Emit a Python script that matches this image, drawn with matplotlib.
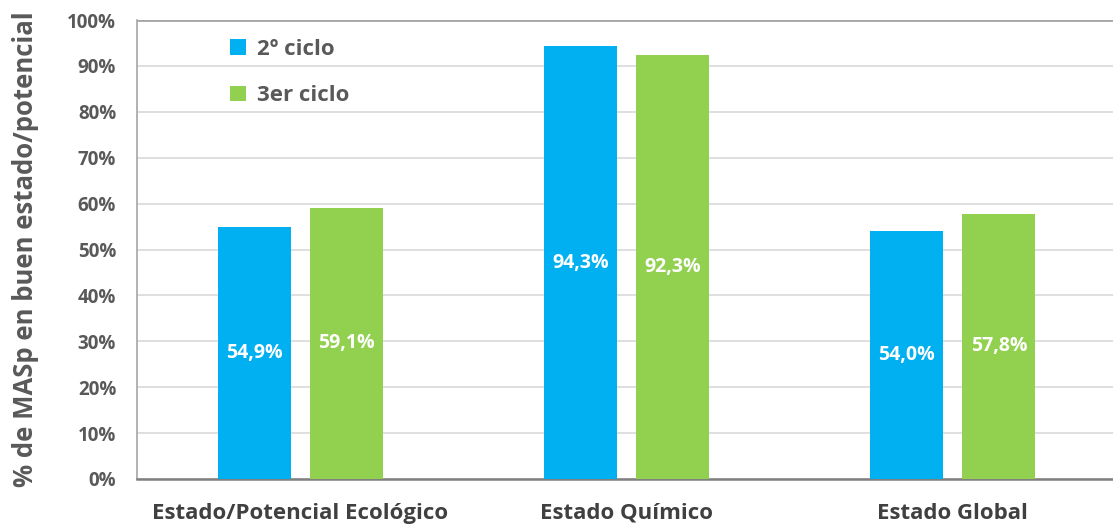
import matplotlib
matplotlib.use("Agg")
import matplotlib.pyplot as plt
import numpy as np

categories = ["Estado/Potencial Ecológico", "Estado Químico", "Estado Global"]
series_names = ["2º ciclo", "3er ciclo"]
ciclo2 = [54.9, 94.3, 54.0]
ciclo3 = [59.1, 92.3, 57.8]
yticks = [0, 10, 20, 30, 40, 50, 60, 70, 80, 90, 100]

plt.rcParams['font.family'] = ['Open Sans', 'DejaVu Sans']

fig = plt.figure(figsize=(11.13, 5.30), dpi=100)
ax = fig.add_axes([137/1113, 1 - 479/530, (1116-137)/1113, (479-20)/530])

x = np.arange(len(categories))
w = 0.224
off = 0.141
blue = "#00B0F0"
green = "#92D050"
b1 = ax.bar(x - off, ciclo2, w, color=blue, label=series_names[0], zorder=3)
b2 = ax.bar(x + off, ciclo3, w, color=green, label=series_names[1], zorder=3)

def fmt(v):
    return f"{v:.1f}".replace(".", ",") + "%"

for bars, vals in ((b1, ciclo2), (b2, ciclo3)):
    for r, v in zip(bars, vals):
        ax.text(r.get_x() + r.get_width()/2, v/2, fmt(v), ha="center", va="center",
                color="white", fontsize=14, fontweight="bold", zorder=4)

ax.set_xlim(-0.5, 2.5)
ax.set_ylim(0, 100)
ax.set_yticks(yticks)
ax.set_yticklabels([f"{t}%" for t in yticks], color="#595959", fontsize=13.5, fontweight="bold")
ax.set_xticks(x)
ax.set_xticklabels(categories, color="#404040", fontsize=16, fontweight="bold")
ax.tick_params(axis="both", length=0)
ax.tick_params(axis="x", pad=17)
ax.tick_params(axis="y", pad=15)
ax.yaxis.grid(True, color="#D9D9D9", linewidth=1.2, zorder=0)
ax.set_axisbelow(True)
for s in ["top", "right"]:
    ax.spines[s].set_visible(False)
ax.spines["left"].set_color("#A6A6A6")
ax.spines["left"].set_linewidth(1.2)
ax.spines["bottom"].set_color("#808080")
ax.spines["bottom"].set_linewidth(1.8)
ax.axhline(100, color="#A6A6A6", linewidth=2, zorder=1)

ax.set_ylabel("% de MASp en buen estado/potencial", color="#595959", fontsize=18.5,
              fontweight="bold", labelpad=10)
ax.yaxis.set_label_coords(-0.1, 0.5)

leg = ax.legend(loc="upper left", bbox_to_anchor=(0.075, 1.003), frameon=False,
                fontsize=16, handlelength=0.7, handleheight=0.7, labelspacing=1.15,
                handletextpad=0.5)
for t in leg.get_texts():
    t.set_color("#595959")
    t.set_fontweight("bold")

fig.savefig("out.png", dpi=100, facecolor="white")
